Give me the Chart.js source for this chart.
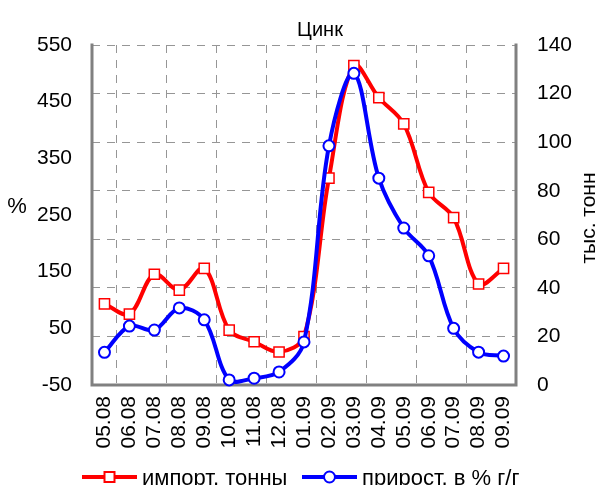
<!DOCTYPE html>
<html>
<head>
<meta charset="utf-8">
<script src="https://cdn.jsdelivr.net/npm/chart.js@4/dist/chart.umd.min.js"></script>
<style>
  html, body { margin: 0; padding: 0; background: #fff; overflow: hidden; }
  #wrap { width: 597px; height: 485px; }
</style>
</head>
<body>
<div id="wrap"><canvas id="c"></canvas></div>
<script>
"use strict";

const TITLE = "Цинк";
const LEFT_TITLE = "%";
const RIGHT_TITLE = "тыс. тонн";

const months = ["05.08", "06.08", "07.08", "08.08", "09.08", "10.08", "11.08", "12.08",
  "01.09", "02.09", "03.09", "04.09", "05.09", "06.09", "07.09", "08.09", "09.09"];

// импорт, тыс. тонн (right axis)
const importTons = [33.4, 29.2, 45.6, 39.1, 48.0, 22.6, 17.8, 13.6, 19.9,
  85.2, 131.5, 118.3, 107.5, 79.3, 68.9, 41.6, 48.0];

// прирост, % г/г (left axis)
const growthPct = [7.6, 54, 47, 86, 65, -41, -38, -27, 26,
  372, 500, 315, 227, 178, 50, 8, 1];

const leftTicks = { min: -50, max: 550, step: 100 };
const rightTicks = { min: 0, max: 140, step: 20 };

const FONT = "'Liberation Sans', Arial, sans-serif";
const GRID = "#969696";
const DASH = [8, 7];
const BORDER = "#808080";

// ------------------------------------------------------------------ //
// extras: title, axis titles, plot border, legend                    //
// ------------------------------------------------------------------ //

const extras = {
  id: "extras",
  beforeDatasetsDraw(chart) {
    const { ctx, chartArea: a } = chart;
    ctx.save();
    ctx.strokeStyle = BORDER;
    ctx.lineWidth = 3;
    ctx.lineCap = "square";
    ctx.beginPath();
    ctx.moveTo(a.left, a.top);
    ctx.lineTo(a.left, a.bottom);
    ctx.lineTo(a.right, a.bottom);
    ctx.lineTo(a.right, a.top);
    ctx.stroke();
    ctx.restore();
  },
  afterDraw(chart) {
    const { ctx } = chart;
    ctx.save();
    ctx.fillStyle = "#000";

    ctx.font = `20px ${FONT}`;
    ctx.textAlign = "center";
    ctx.textBaseline = "alphabetic";
    ctx.fillText(TITLE, 320, 36);

    ctx.font = `22px ${FONT}`;
    ctx.fillText(LEFT_TITLE, 17, 213);

    ctx.save();
    ctx.translate(595, 218);
    ctx.rotate(-Math.PI / 2);
    ctx.font = `21px ${FONT}`;
    ctx.fillText(RIGHT_TITLE, 0, 0);
    ctx.restore();

    // legend: line + marker + label
    const items = [
      { ds: chart.data.datasets[1], x0: 82, x1: 137 },
      { ds: chart.data.datasets[0], x0: 302, x1: 357 },
    ];
    const ly = 477;
    for (const it of items) {
      const ds = it.ds;
      ctx.strokeStyle = ds.borderColor;
      ctx.lineWidth = 4;
      ctx.beginPath();
      ctx.moveTo(it.x0, ly);
      ctx.lineTo(it.x1, ly);
      ctx.stroke();
      const mx = (it.x0 + it.x1) / 2;
      ctx.fillStyle = "#fff";
      ctx.lineWidth = 2;
      ctx.beginPath();
      if (ds.pointStyle === "rect") ctx.rect(mx - 5, ly - 5, 10, 10);
      else ctx.arc(mx, ly, 5.5, 0, Math.PI * 2);
      ctx.fill();
      ctx.stroke();
      ctx.fillStyle = "#000";
      ctx.font = `22px ${FONT}`;
      ctx.textAlign = "left";
      ctx.textBaseline = "alphabetic";
      ctx.fillText(ds.label, it.x1 + 5, 485);
    }
    ctx.restore();
  },
};

new Chart(document.getElementById("c"), {
  type: "line",
  data: {
    labels: months,
    datasets: [
      {
        label: "прирост, в % г/г",
        data: growthPct,
        yAxisID: "y",
        borderColor: "#0000ff",
        backgroundColor: "#ffffff",
        borderWidth: 4,
        tension: 0.35,
        pointStyle: "circle",
        pointRadius: 5.5,
        pointBorderWidth: 2,
        pointBackgroundColor: "#ffffff",
        pointBorderColor: "#0000ff",
        clip: 8,
        order: 0,
      },
      {
        label: "импорт, тонны",
        data: importTons,
        yAxisID: "y1",
        borderColor: "#ff0000",
        backgroundColor: "#ffffff",
        borderWidth: 4,
        tension: 0.35,
        pointStyle: "rect",
        pointRadius: 7.2,
        pointBorderWidth: 1.5,
        pointBackgroundColor: "#ffffff",
        pointBorderColor: "#ff0000",
        clip: 8,
        order: 1,
      },
    ],
  },
  options: {
    responsive: true,
    maintainAspectRatio: false,
    animation: false,
    layout: { padding: { top: 45, left: 0, right: 0, bottom: 0 } },
    plugins: { legend: { display: false }, title: { display: false }, tooltip: { enabled: false } },
    scales: {
      x: {
        type: "category",
        offset: true,
        afterFit: (s) => { s.height = 100; },
        grid: {
          offset: true,
          drawTicks: false,
          color: (c) => (c.index % 2 === 1 ? GRID : "rgba(0,0,0,0)"),
          lineWidth: 1,
          borderDash: DASH,
        },
        border: { display: false, dash: DASH },
        ticks: {
          color: "#000",
          font: { family: FONT, size: 21 },
          minRotation: 90,
          maxRotation: 90,
          padding: 11,
          autoSkip: false,
        },
      },
      y: {
        position: "left",
        min: leftTicks.min,
        max: leftTicks.max,
        afterFit: (s) => { s.width = 92; },
        afterBuildTicks: (s) => {
          const t = [];
          for (let v = leftTicks.min; v <= leftTicks.max; v += leftTicks.step) t.push({ value: v });
          s.ticks = t;
        },
        grid: { display: false, drawTicks: false },
        border: { display: false },
        ticks: { color: "#000", font: { family: FONT, size: 21 }, padding: 20 },
      },
      y1: {
        position: "right",
        min: rightTicks.min,
        max: rightTicks.max,
        afterFit: (s) => { s.width = 81; },
        afterBuildTicks: (s) => {
          const t = [];
          for (let v = rightTicks.min; v <= rightTicks.max; v += rightTicks.step) t.push({ value: v });
          s.ticks = t;
        },
        grid: { color: GRID, lineWidth: 1, drawTicks: false, borderDash: DASH },
        border: { display: false, dash: DASH },
        ticks: { color: "#000", font: { family: FONT, size: 21 }, padding: 21 },
      },
    },
  },
  plugins: [extras],
});
</script>
</body>
</html>
